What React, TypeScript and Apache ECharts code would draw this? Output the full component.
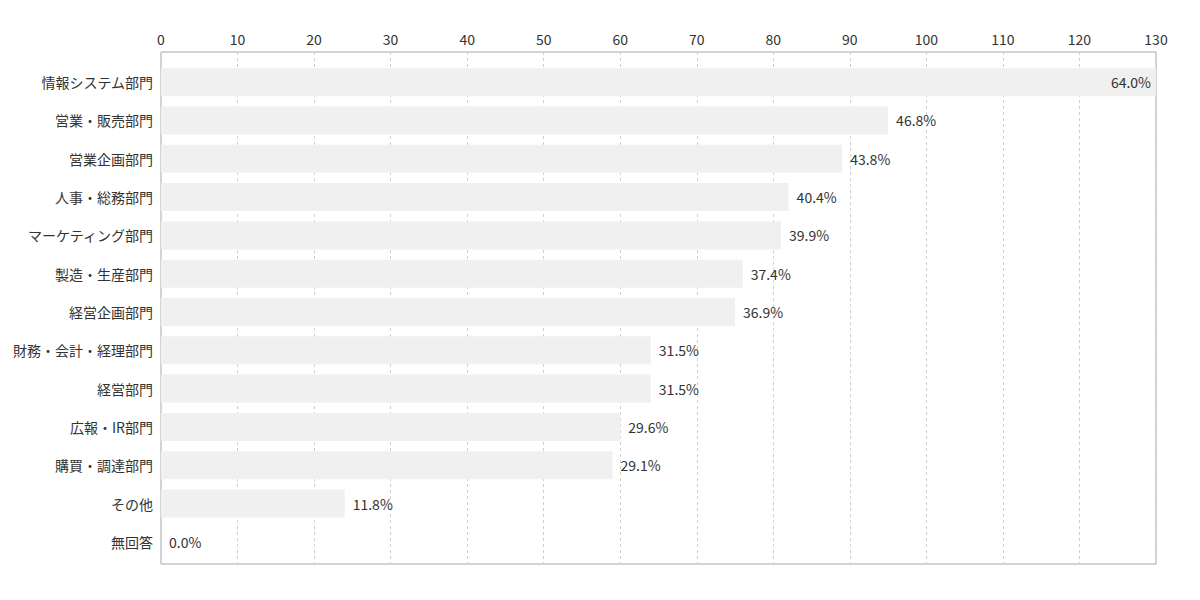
import { useEffect, useRef } from 'react';
import * as echarts from 'echarts';

const categories = [
    '情報システム部門',
    '営業・販売部門',
    '営業企画部門',
    '人事・総務部門',
    'マーケティング部門',
    '製造・生産部門',
    '経営企画部門',
    '財務・会計・経理部門',
    '経営部門',
    '広報・IR部門',
    '購買・調達部門',
    'その他',
    '無回答',
];

// response counts (bar length)
const counts = [130, 95, 89, 82, 81, 76, 75, 64, 64, 60, 59, 24, 0];

// shown percentages
const percents = ['64.0%', '46.8%', '43.8%', '40.4%', '39.9%', '37.4%', '36.9%', '31.5%', '31.5%', '29.6%', '29.1%', '11.8%', '0.0%'];

const FONT = '"Noto Sans CJK JP", "Noto Sans", sans-serif';

export default function App() {
    const chartRef = useRef<HTMLDivElement>(null);

    useEffect(() => {
        if (!chartRef.current) return;
        document.body.style.margin = '0';
        const chart = echarts.init(chartRef.current, undefined, { renderer: 'svg' });

        const option: echarts.EChartsOption = {
            animation: false,
            backgroundColor: '#fff',
            grid: [
                // outer frame + dashed grid lines
                {
                    left: 161,
                    right: 44,
                    top: 52,
                    bottom: 36,
                    show: true,
                    borderColor: '#a8a8a8',
                    borderWidth: 1,
                },
                // bars area, slightly inset vertically
                {
                    left: 161,
                    right: 44,
                    top: 63,
                    bottom: 39,
                },
            ],
            xAxis: [
                {
                    type: 'value',
                    gridIndex: 0,
                    position: 'top',
                    min: 0,
                    max: 130,
                    interval: 10,
                    axisLine: { show: false },
                    axisTick: { show: false },
                    axisLabel: {
                        color: '#333',
                        fontSize: 14,
                        fontFamily: FONT,
                        margin: 6,
                    },
                    splitLine: {
                        show: true,
                        lineStyle: { color: '#d0d0d0', type: [3, 3], width: 1 },
                    },
                },
                {
                    type: 'value',
                    gridIndex: 1,
                    min: 0,
                    max: 130,
                    show: false,
                },
            ],
            yAxis: [
                {
                    type: 'category',
                    gridIndex: 0,
                    data: [''],
                    show: false,
                },
                {
                    type: 'category',
                    gridIndex: 1,
                    inverse: true,
                    data: categories,
                    axisLine: { show: false },
                    axisTick: { show: false },
                    splitLine: { show: false },
                    axisLabel: {
                        color: '#333',
                        fontSize: 14,
                        fontFamily: FONT,
                        margin: 8,
                    },
                },
            ],
            series: [
                {
                    type: 'bar',
                    xAxisIndex: 1,
                    yAxisIndex: 1,
                    data: counts.map((v, i) => ({
                        value: v,
                        label: i === 0
                            ? { position: 'insideRight', distance: 5 }
                            : undefined,
                    })),
                    barWidth: 28,
                    itemStyle: { color: '#f0f0f0' },
                    label: {
                        show: true,
                        position: 'right',
                        distance: 8,
                        color: '#333',
                        fontSize: 14,
                        fontFamily: FONT,
                        formatter: (p: any) => percents[p.dataIndex],
                    },
                },
            ],
        };

        chart.setOption(option);

        return () => {
            chart.dispose();
        };
    }, []);

    return <div ref={chartRef} style={{ width: '1200px', height: '600px' }} />;
}
